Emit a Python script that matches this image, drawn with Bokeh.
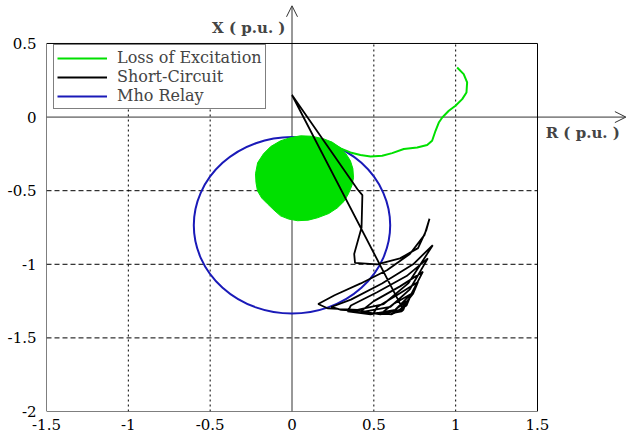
from bokeh.plotting import figure
from bokeh.models import (Arrow, OpenHead, Label, Legend, LegendItem,
                          FixedTicker)
from bokeh.embed import file_html
from bokeh.resources import INLINE

# ---------------- data ----------------
x_ticks = [-1.5, -1, -0.5, 0, 0.5, 1, 1.5]
x_tick_labels = ["-1.5", "-1", "-0.5", "0", "0.5", "1", "1.5"]
y_ticks = [-2, -1.5, -1, -0.5, 0, 0.5]
y_tick_labels = ["-2", "-1.5", "-1", "-0.5", "0", "0.5"]

# Mho relay circle
mho_center_r = [0.0]
mho_center_x = [-0.735]
mho_diameter = [1.2]

# Loss of excitation: dense spiral (filled blob) + exit trajectory
blob_r = [0.052, -0.010, -0.070, -0.130, -0.174, -0.210, -0.223, -0.220,
          -0.211, -0.185, -0.150, -0.110, -0.070, -0.020, 0.034, 0.100,
          0.156, 0.225, 0.278, 0.320, 0.345, 0.366, 0.376, 0.372, 0.357,
          0.330, 0.296, 0.245, 0.192, 0.120]
blob_x = [-0.127, -0.140, -0.161, -0.200, -0.249, -0.310, -0.385, -0.445,
          -0.501, -0.550, -0.589, -0.632, -0.671, -0.693, -0.704, -0.700,
          -0.684, -0.655, -0.616, -0.570, -0.521, -0.465, -0.412, -0.350,
          -0.297, -0.250, -0.208, -0.170, -0.147, -0.130]
loe_r = [0.235, 0.296, 0.357, 0.418, 0.480, 0.551, 0.612, 0.683, 0.765,
         0.826, 0.856, 0.877, 0.897, 0.918, 0.958, 0.999, 1.040, 1.066,
         1.070, 1.049, 1.009]
loe_x = [-0.183, -0.213, -0.240, -0.258, -0.268, -0.263, -0.245, -0.217,
         -0.207, -0.190, -0.161, -0.093, -0.037, -0.003, 0.043, 0.077,
         0.122, 0.167, 0.235, 0.292, 0.337]

# Short-circuit trajectory
sc_r = [0.00, 0.40, 0.43, 0.425, 0.38, 0.385, 0.52, 0.66, 0.77, 0.82, 0.84,
        0.81, 0.72, 0.58, 0.42, 0.26, 0.16, 0.22, 0.40, 0.56, 0.71, 0.86,
        0.74, 0.55, 0.36, 0.24, 0.30, 0.45, 0.60, 0.72, 0.83,
        0.70, 0.52, 0.36, 0.34, 0.48, 0.63, 0.73, 0.80,
        0.66, 0.50, 0.42, 0.54, 0.66, 0.74, 0.77,
        0.64, 0.52, 0.50, 0.61, 0.70, 0.73,
        0.62, 0.56, 0.60, 0.68, 0.70, 0.64, 0.62, 0.67, 0.68, 0.00]
sc_x = [0.15, -0.49, -0.53, -0.75, -0.93, -0.99, -1.00, -0.96, -0.89, -0.77, -0.69,
        -0.80, -0.93, -1.04, -1.13, -1.21, -1.27, -1.30, -1.31, -1.27, -1.13, -0.87,
        -1.00, -1.13, -1.24, -1.29, -1.31, -1.32, -1.29, -1.17, -0.96,
        -1.08, -1.19, -1.28, -1.32, -1.34, -1.31, -1.20, -1.05,
        -1.15, -1.25, -1.32, -1.34, -1.31, -1.20, -1.12,
        -1.21, -1.29, -1.33, -1.34, -1.28, -1.20,
        -1.27, -1.32, -1.34, -1.31, -1.25, -1.30, -1.33, -1.32, -1.31, 0.15]

legend_labels = ["Loss of Excitation", "Short-Circuit", "Mho Relay"]

GREEN = "#00e000"
BLUE = "#1a1ab8"
BLACK = "#000000"
AXIS = "#333333"
SERIF = "DejaVu Serif"

# ---------------- figure ----------------
# the frame is extended past the plotting box so that the axis arrows and
# axis titles (which sit outside the box) are not clipped
p = figure(width=628, height=432, x_range=(-1.5, 2.056), y_range=(-2, 0.792),
           output_backend="svg", toolbar_location=None,
           min_border_left=46, min_border_right=0, min_border_top=0,
           min_border_bottom=21)
p.background_fill_color = "white"
p.border_fill_color = "white"
p.outline_line_color = None
p.grid.visible = False

for ax in (p.xaxis[0], p.yaxis[0]):
    ax.axis_line_color = None
    ax.major_tick_line_color = None
    ax.minor_tick_line_color = None
    ax.major_label_text_font = SERIF
    ax.major_label_text_font_size = "15px"
    ax.major_label_text_color = "black"

p.xaxis[0].ticker = FixedTicker(ticks=x_ticks)
p.yaxis[0].ticker = FixedTicker(ticks=y_ticks)
p.xaxis[0].major_label_overrides = dict(zip(x_ticks, x_tick_labels))
p.yaxis[0].major_label_overrides = dict(zip(y_ticks, y_tick_labels))
p.xaxis[0].major_label_standoff = 1
p.yaxis[0].major_label_standoff = 4

# plotting box and grid lines, from the tick lists
inner_x = [t for t in x_ticks[1:-1] if t != 0]
inner_y = [t for t in y_ticks[1:-1] if t != 0]
p.segment(x0=inner_x, y0=[y_ticks[0]] * len(inner_x),
          x1=inner_x, y1=[y_ticks[-1]] * len(inner_x),
          line_color="black", line_width=1, line_dash="2 3")
p.segment(x0=[x_ticks[0]] * len(inner_y), y0=inner_y,
          x1=[x_ticks[-1]] * len(inner_y), y1=inner_y,
          line_color="black", line_width=1, line_dash="5 3")
p.quad(left=[x_ticks[0]], right=[x_ticks[-1]], bottom=[y_ticks[0]],
       top=[y_ticks[-1]], fill_color=None, line_color="black", line_width=1)

# axes through origin with arrows (under the data)
p.add_layout(Arrow(end=OpenHead(size=11, line_color=AXIS, line_width=1),
                   x_start=x_ticks[0], y_start=0, x_end=2.04, y_end=0,
                   line_color=AXIS, line_width=1, level="underlay"))
p.add_layout(Arrow(end=OpenHead(size=11, line_color=AXIS, line_width=1),
                   x_start=0, y_start=y_ticks[0], x_end=0, y_end=0.756,
                   line_color=AXIS, line_width=1, level="underlay"))

# ---------------- glyphs ----------------
p.ellipse(x=mho_center_r, y=mho_center_x, width=mho_diameter,
          height=mho_diameter, fill_color=None, line_color=BLUE, line_width=2)
p.patch(blob_r, blob_x, fill_color=GREEN, line_color=GREEN, line_width=1)
r_green = p.line(loe_r, loe_x, line_color=GREEN, line_width=2)
r_black = p.line(sc_r, sc_x, line_color=BLACK, line_width=1.8)
r_blue = p.line(x=mho_center_r, y=mho_center_x, line_color=BLUE, line_width=2)

p.add_layout(Label(x=-0.04, y=0.606, text="X ( p.u. )", text_font=SERIF,
                   text_font_size="15px", text_font_style="bold",
                   text_align="right", text_baseline="middle"))
p.add_layout(Label(x=1.55, y=-0.11, text="R ( p.u. )", text_font=SERIF,
                   text_font_size="15px", text_font_style="bold",
                   text_align="left", text_baseline="middle"))

legend = Legend(items=[LegendItem(label=legend_labels[0], renderers=[r_green]),
                       LegendItem(label=legend_labels[1], renderers=[r_black]),
                       LegendItem(label=legend_labels[2], renderers=[r_blue])],
                location=(7, 302))
legend.margin = 0
legend.padding = 3
legend.spacing = 0
legend.border_line_color = "black"
legend.border_line_width = 1
legend.background_fill_alpha = 1
legend.label_text_font = SERIF
legend.label_text_font_size = "16px"
legend.glyph_width = 50
legend.glyph_height = 18
legend.label_height = 18
legend.label_standoff = 10
p.add_layout(legend)

open("out.html", "w").write(file_html(p, INLINE))
